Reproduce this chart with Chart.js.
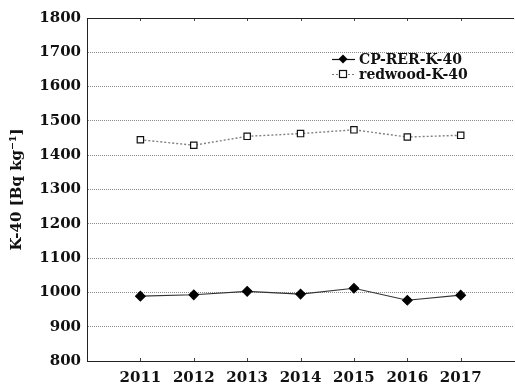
<!DOCTYPE html>
<html>
<head>
<meta charset="utf-8">
<script src="https://cdn.jsdelivr.net/npm/chart.js@4.4.1/dist/chart.umd.min.js"></script>
<style>
  html, body { margin: 0; padding: 0; background: #fff; overflow: hidden; }
  #wrap { width: 515px; height: 387px; overflow: hidden; }
</style>
</head>
<body>
<div id="wrap"><canvas id="c" width="520" height="387"></canvas></div>
<script>
// Annual K-40 activity concentrations (Bq/kg)
const years = [2011, 2012, 2013, 2014, 2015, 2016, 2017];
const cpRer = [989, 993, 1003, 995, 1012, 977, 992];
const redwood = [1445, 1429, 1455, 1463, 1474, 1453, 1458];
const yTicks = [800, 900, 1000, 1100, 1200, 1300, 1400, 1500, 1600, 1700, 1800];
const seriesNames = ['CP-RER-K-40', 'redwood-K-40'];

const FONT = "'DejaVu Serif', 'Liberation Serif', serif";

// small inward tick marks at each year on the top and bottom frame
const innerTicks = {
  id: 'innerTicks',
  afterDraw(chart) {
    const { ctx, chartArea, scales } = chart;
    ctx.save();
    ctx.strokeStyle = '#444';
    ctx.lineWidth = 1;
    years.forEach(y => {
      const x = Math.round(scales.x.getPixelForValue(y)) + 0.5;
      ctx.beginPath();
      ctx.moveTo(x, chartArea.top);
      ctx.lineTo(x, chartArea.top + 3);
      ctx.moveTo(x, chartArea.bottom);
      ctx.lineTo(x, chartArea.bottom - 3);
      ctx.stroke();
    });
    // top frame line
    ctx.strokeStyle = '#222';
    ctx.beginPath();
    ctx.moveTo(chartArea.left, chartArea.top + 0.5);
    ctx.lineTo(chartArea.right, chartArea.top + 0.5);
    ctx.stroke();
    ctx.restore();
  }
};

// legend box in the upper right of the plot
const innerLegend = {
  id: 'innerLegend',
  afterDraw(chart) {
    const { ctx } = chart;
    const rows = [
      { name: seriesNames[0], y: 59, dash: [], color: '#111', marker: 'diamond' },
      { name: seriesNames[1], y: 74, dash: [2, 2], color: '#777', marker: 'square' }
    ];
    ctx.save();
    rows.forEach(r => {
      ctx.strokeStyle = r.color;
      ctx.lineWidth = 1.2;
      ctx.setLineDash(r.dash);
      ctx.beginPath();
      ctx.moveTo(332, r.y + 0.5);
      ctx.lineTo(355, r.y + 0.5);
      ctx.stroke();
      ctx.setLineDash([]);
      if (r.marker === 'diamond') {
        ctx.fillStyle = '#000';
        ctx.beginPath();
        ctx.moveTo(343, r.y - 4.5);
        ctx.lineTo(347.5, r.y);
        ctx.lineTo(343, r.y + 4.5);
        ctx.lineTo(338.5, r.y);
        ctx.closePath();
        ctx.fill();
      } else {
        ctx.fillStyle = '#fff';
        ctx.strokeStyle = '#111';
        ctx.lineWidth = 1.2;
        ctx.fillRect(339.5, r.y - 3.5, 7, 7);
        ctx.strokeRect(339.5, r.y - 3.5, 7, 7);
      }
      ctx.fillStyle = '#111';
      ctx.font = "bold 14px " + FONT;
      ctx.textBaseline = 'middle';
      ctx.fillText(r.name, 359, r.y + 1);
    });
    ctx.restore();
  }
};

new Chart(document.getElementById('c'), {
  type: 'line',
  data: {
    datasets: [
      {
        label: seriesNames[0],
        data: years.map((y, i) => ({ x: y, y: cpRer[i] })),
        borderColor: '#333',
        borderWidth: 1.1,
        pointStyle: 'rectRot',
        pointRadius: 4.8,
        pointBackgroundColor: '#000',
        pointBorderColor: '#000',
        tension: 0
      },
      {
        label: seriesNames[1],
        data: years.map((y, i) => ({ x: y, y: redwood[i] })),
        borderColor: '#808080',
        borderWidth: 1.4,
        borderDash: [2, 2],
        pointStyle: 'rect',
        pointRadius: 4.5,
        pointBackgroundColor: '#fff',
        pointBorderColor: '#111',
        pointBorderWidth: 1.2,
        tension: 0
      }
    ]
  },
  options: {
    responsive: false,
    animation: false,
    layout: { padding: { top: 18, right: 3, left: 0, bottom: 0 } },
    plugins: { legend: { display: false }, tooltip: { enabled: false } },
    scales: {
      x: {
        type: 'linear',
        min: 2010,
        max: 2018,
        afterBuildTicks(scale) {
          scale.ticks = years.map(v => ({ value: v }));
        },
        afterFit(scale) { scale.height = 26; },
        grid: { display: false, drawTicks: false },
        border: { display: true, color: '#222', width: 1 },
        ticks: {
          padding: 8,
          maxRotation: 0,
          autoSkip: false,
          color: '#111',
          font: { family: FONT, size: 15, weight: 'bold' },
          callback: v => String(v)
        }
      },
      y: {
        min: 800,
        max: 1800,
        afterBuildTicks(scale) {
          scale.ticks = yTicks.map(v => ({ value: v }));
        },
        afterFit(scale) { scale.width = 87; },
        grid: {
          drawTicks: false,
          color: ctx => (ctx.tick && (ctx.tick.value === 800 || ctx.tick.value === 1800)) ? 'rgba(0,0,0,0)' : '#8a8a8a',
          lineWidth: 1
        },
        border: { display: true, color: '#222', width: 1, dash: [1, 1] },
        ticks: {
          padding: 6,
          color: '#111',
          font: { family: FONT, size: 15, weight: 'bold' },
          callback: v => String(v)
        },
        title: {
          display: true,
          text: 'K-40 [Bq kg⁻¹]',
          color: '#111',
          padding: { top: 8, bottom: 0 },
          font: { family: FONT, size: 15, weight: 'bold' }
        }
      }
    }
  },
  plugins: [innerTicks, innerLegend]
});
</script>
</body>
</html>
